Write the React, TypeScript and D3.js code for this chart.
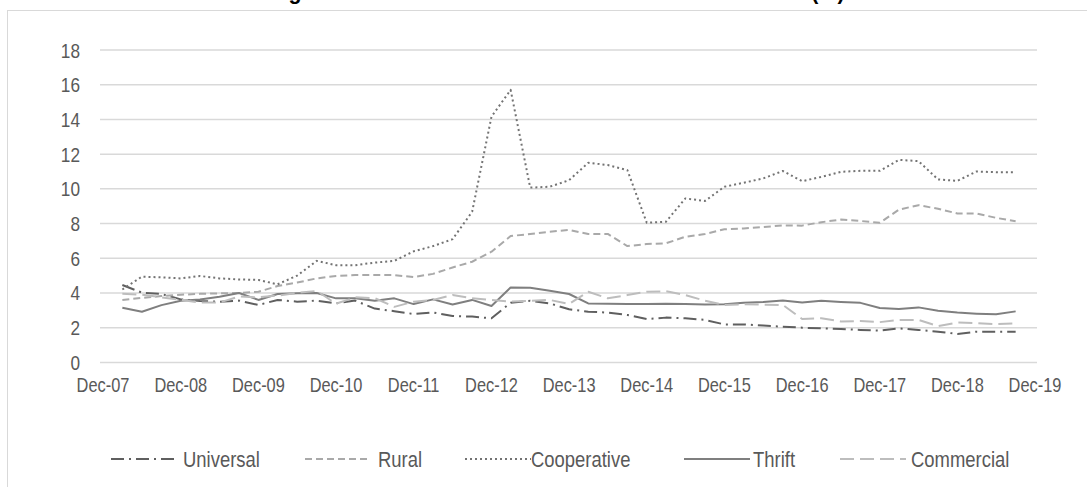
import React from "react";
import * as d3 from "d3";

// Quarterly observations, Mar-08 through Sep-19 (47 quarters)
const firstQuarter = new Date(2008, 2, 1);
const quarterCount = 47;
const quarters: Date[] = d3.range(quarterCount).map((i) => d3.timeMonth.offset(firstQuarter, 3 * i));

const universal = [4.46, 4.02, 3.94, 3.63, 3.54, 3.5, 3.56, 3.31, 3.6, 3.5,
  3.56, 3.4, 3.56, 3.1, 2.95, 2.79, 2.88, 2.67, 2.64, 2.54,
  3.44, 3.55, 3.4, 3.06, 2.92, 2.87, 2.73, 2.5, 2.58, 2.54,
  2.45, 2.19, 2.19, 2.12, 2.06, 2.0, 1.96, 1.92, 1.87, 1.83,
  1.96, 1.87, 1.77, 1.64, 1.77, 1.77, 1.77];

const rural = [3.59, 3.72, 3.82, 3.9, 3.95, 3.98, 4.0, 4.07, 4.4, 4.6,
  4.84, 4.98, 5.03, 5.03, 5.03, 4.92, 5.1, 5.47, 5.8, 6.38,
  7.28, 7.4, 7.53, 7.63, 7.4, 7.4, 6.7, 6.82, 6.86, 7.24,
  7.4, 7.67, 7.72, 7.8, 7.89, 7.88, 8.08, 8.23, 8.15, 8.04,
  8.8, 9.06, 8.85, 8.58, 8.58, 8.33, 8.13];

const cooperative = [4.2, 4.94, 4.9, 4.84, 4.98, 4.84, 4.78, 4.75, 4.5, 5.0,
  5.85, 5.6, 5.6, 5.75, 5.85, 6.4, 6.7, 7.1, 8.68, 14.16,
  15.7, 10.07, 10.12, 10.5, 11.5, 11.37, 11.08, 8.05, 8.1, 9.45,
  9.3, 10.12, 10.35, 10.6, 11.03, 10.44, 10.69, 10.98, 11.04, 11.04,
  11.67, 11.6, 10.54, 10.46, 11.0, 10.96, 10.96];

const thrift = [3.15, 2.92, 3.3, 3.55, 3.63, 3.78, 4.0, 3.6, 3.94, 3.98,
  4.0, 3.69, 3.69, 3.55, 3.69, 3.36, 3.63, 3.34, 3.6, 3.25,
  4.32, 4.3, 4.13, 3.94, 3.4, 3.38, 3.36, 3.36, 3.38, 3.36,
  3.33, 3.35, 3.44, 3.48, 3.56, 3.45, 3.55, 3.48, 3.43, 3.13,
  3.07, 3.17, 2.98, 2.87, 2.81, 2.77, 2.94];

const commercial = [3.95, 3.9, 3.75, 3.6, 3.45, 3.45, 3.8, 3.75, 3.85, 4.0,
  4.12, 3.38, 3.75, 3.7, 3.2, 3.5, 3.6, 3.88, 3.69, 3.6,
  3.5, 3.55, 3.6, 3.37, 4.07, 3.69, 3.88, 4.07, 4.1, 3.88,
  3.55, 3.31, 3.35, 3.33, 3.31, 2.5, 2.54, 2.36, 2.38, 2.32,
  2.45, 2.45, 2.09, 2.3, 2.26, 2.21, 2.24];

const yTicks = [0, 2, 4, 6, 8, 10, 12, 14, 16, 18];
const xTickLabels = ["Dec-07", "Dec-08", "Dec-09", "Dec-10", "Dec-11", "Dec-12", "Dec-13",
  "Dec-14", "Dec-15", "Dec-16", "Dec-17", "Dec-18", "Dec-19"];

const title = "Figure 8: Loan Loss Reserves to Total Loan Portfolio (%)";

const FONT = "'Liberation Sans', Arial, sans-serif";
const NARROW = 0.82;

type Series = { name: string; values: number[]; color: string; dash: string };

const series: Series[] = [
  { name: "Universal", values: universal, color: "#5f5f5f", dash: "13 5 2 5" },
  { name: "Rural", values: rural, color: "#a9a9a9", dash: "7 4" },
  { name: "Cooperative", values: cooperative, color: "#737373", dash: "2 3" },
  { name: "Thrift", values: thrift, color: "#7f7f7f", dash: "" },
  { name: "Commercial", values: commercial, color: "#bdbdbd", dash: "14 6" },
];

const legendPos = [
  { sx: 111, tx: 183 },
  { sx: 305, tx: 378 },
  { sx: 465, tx: 531 },
  { sx: 684, tx: 753 },
  { sx: 840, tx: 911 },
];

// Condensed label: regular sans squeezed horizontally
function NarrowText(props: {
  x: number; y: number; size: number; anchor?: "start" | "middle" | "end"; children: React.ReactNode;
}) {
  return (
    <text
      transform={`translate(${props.x},${props.y}) scale(${NARROW},1)`}
      textAnchor={props.anchor || "start"}
      fontSize={props.size}
      fill="#595959"
    >
      {props.children}
    </text>
  );
}

export default function App() {
  const width = 1087;
  const height = 487;

  const x = d3.scaleTime()
    .domain([new Date(2007, 11, 1), new Date(2019, 11, 1)])
    .range([103, 1035]);
  const y = d3.scaleLinear().domain([0, 18]).range([362.4, 50]);

  const gridX0 = 100;
  const gridX1 = 1037;

  const xTicks = xTickLabels.map((_, i) => new Date(2007 + i, 11, 1));

  const line = (vals: number[]) =>
    d3.line<number>()
      .x((_, i) => x(quarters[i]))
      .y((v) => y(v))(vals) || "";

  return (
    <svg
      width={width}
      height={height}
      style={{ position: "absolute", left: 0, top: 0, background: "#fff" }}
      fontFamily={FONT}
    >
      <rect x={0} y={0} width={width} height={height} fill="#fff" />
      <text
        x={557}
        y={-1}
        textAnchor="middle"
        fontWeight="bold"
        fontSize={22}
        fill="#000"
        textLength={575}
        lengthAdjust="spacingAndGlyphs"
      >
        {title}
      </text>
      <rect x={7.5} y={10.5} width={1100} height={500} fill="none" stroke="#d9d9d9" strokeWidth={1} />

      {yTicks.map((t) => (
        <g key={t}>
          <line x1={gridX0} x2={gridX1} y1={y(t)} y2={y(t)} stroke="#d9d9d9" strokeWidth={1.5} />
          <NarrowText x={80} y={y(t) + 7.5} size={21} anchor="end">{t}</NarrowText>
        </g>
      ))}

      {xTicks.map((d, i) => (
        <NarrowText key={i} x={x(d)} y={392} size={20} anchor="middle">{xTickLabels[i]}</NarrowText>
      ))}

      {series.map((s) => (
        <path
          key={s.name}
          d={line(s.values)}
          fill="none"
          stroke={s.color}
          strokeWidth={2}
          strokeDasharray={s.dash || undefined}
          strokeLinejoin="round"
        />
      ))}

      {series.map((s, i) => (
        <g key={s.name}>
          <line
            x1={legendPos[i].sx}
            x2={legendPos[i].sx + 66}
            y1={459}
            y2={459}
            stroke={s.color}
            strokeWidth={2}
            strokeDasharray={s.dash || undefined}
          />
          <NarrowText x={legendPos[i].tx} y={467} size={22.5}>{s.name}</NarrowText>
        </g>
      ))}
    </svg>
  );
}
